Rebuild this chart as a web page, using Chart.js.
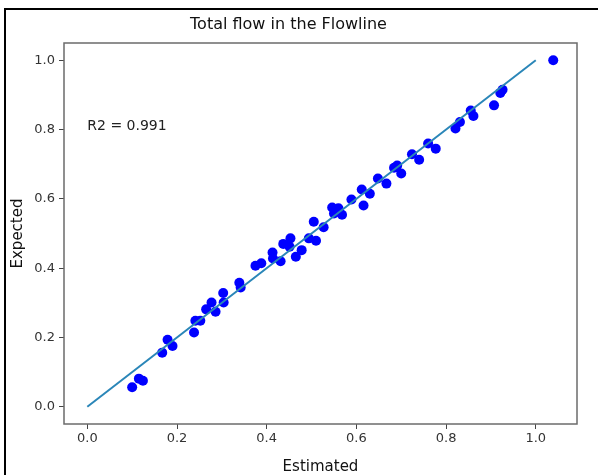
<!DOCTYPE html>
<html><head><meta charset="utf-8">
<script src="https://cdn.jsdelivr.net/npm/chart.js@4.4.1/dist/chart.umd.min.js"></script>
<style>
html,body{margin:0;padding:0;background:#fff;overflow:hidden}
#wrap{position:relative;width:598px;height:475px;overflow:hidden}
#frame{position:absolute;left:4px;top:8px;right:-10px;bottom:-10px;border-left:2px solid #000;border-top:2px solid #000;pointer-events:none}
canvas{display:block}
</style></head><body>
<div id="wrap"><canvas id="c" width="598" height="475"></canvas><div id="frame"></div></div>
<script>
// ---- data ----
const estimated = [0.100,0.115,0.124,0.167,0.179,0.190,0.238,0.241,0.252,0.265,0.277,0.286,0.303,0.304,0.339,0.342,0.375,0.388,0.413,0.414,0.431,0.437,0.453,0.451,0.465,0.478,0.494,0.510,0.505,0.527,0.546,0.560,0.550,0.568,0.589,0.612,0.616,0.630,0.648,0.667,0.684,0.691,0.700,0.724,0.740,0.760,0.777,0.821,0.831,0.855,0.861,0.907,0.921,0.926,1.039];
const expected  = [0.056,0.081,0.075,0.156,0.193,0.175,0.214,0.248,0.248,0.281,0.301,0.274,0.328,0.301,0.358,0.344,0.407,0.414,0.445,0.428,0.420,0.470,0.486,0.462,0.433,0.452,0.486,0.479,0.534,0.518,0.575,0.573,0.558,0.554,0.598,0.627,0.581,0.615,0.659,0.644,0.690,0.696,0.673,0.729,0.713,0.760,0.745,0.803,0.822,0.855,0.839,0.870,0.906,0.915,1.000];
const fitX = [0, 1];
const fitY = [0, 1];
const xTicks = [0.0, 0.2, 0.4, 0.6, 0.8, 1.0];
const yTicks = [0.0, 0.2, 0.4, 0.6, 0.8, 1.0];
const xRange = [-0.052, 1.092];
const yRange = [-0.05, 1.05];
const titleText = 'Total flow in the Flowline';
const xLabel = 'Estimated';
const yLabel = 'Expected';
const r2Label = 'R2 = 0.991';
const r2At = [0.0, 0.8];

const FONT = "'DejaVu Sans', sans-serif";

const annotate = {
  id: 'annotate',
  afterDatasetsDraw(chart) {
    const {ctx, scales:{x, y}} = chart;
    ctx.save();
    ctx.font = '14px ' + FONT;
    ctx.fillStyle = '#222';
    ctx.textAlign = 'left';
    ctx.textBaseline = 'alphabetic';
    ctx.fillText(r2Label, x.getPixelForValue(r2At[0]), y.getPixelForValue(r2At[1]));
    ctx.restore();
  },
  afterDraw(chart) {
    const {ctx, chartArea:a} = chart;
    ctx.save();
    ctx.strokeStyle = '#6b6b6b';
    ctx.lineWidth = 1.5;
    ctx.strokeRect(a.left, a.top, a.right - a.left, a.bottom - a.top);
    ctx.restore();
  }
};

new Chart(document.getElementById('c'), {
  data: {
    datasets: [
      {
        type: 'line',
        data: fitX.map((v, i) => ({x: v, y: fitY[i]})),
        borderColor: '#2a86b8',
        borderWidth: 2,
        pointRadius: 0,
        fill: false,
        tension: 0
      },
      {
        type: 'scatter',
        data: estimated.map((v, i) => ({x: v, y: expected[i]})),
        backgroundColor: '#0000ff',
        borderColor: '#0000ff',
        borderWidth: 0,
        pointRadius: 5
      }
    ]
  },
  options: {
    responsive: false,
    animation: false,
    devicePixelRatio: 1,
    layout: {padding: {left: 0, right: 21, top: 0, bottom: 0}},
    plugins: {
      legend: {display: false},
      tooltip: {enabled: false},
      title: {
        display: true,
        text: titleText,
        color: '#111',
        font: {family: FONT, size: 16, weight: 'normal', lineHeight: 1.2},
        padding: {top: 15, bottom: 8.8}
      }
    },
    scales: {
      x: {
        type: 'linear',
        min: xRange[0], max: xRange[1],
        afterBuildTicks: s => { s.ticks = xTicks.map(v => ({value: v})); },
        afterFit: s => { s.height = 51; },
        ticks: {
          color: '#333', font: {family: FONT, size: 13}, padding: 2,
          callback: v => Number(v).toFixed(1), maxRotation: 0
        },
        grid: {drawOnChartArea: false, drawTicks: true, tickLength: 5, color: '#444'},
        border: {display: false},
        title: {display: true, text: xLabel, color: '#111',
          font: {family: FONT, size: 15, lineHeight: 1}, padding: {top: 0, bottom: 0}}
      },
      y: {
        type: 'linear',
        min: yRange[0], max: yRange[1],
        afterBuildTicks: s => { s.ticks = yTicks.map(v => ({value: v})); },
        afterFit: s => { s.width = 64; },
        ticks: {
          color: '#333', font: {family: FONT, size: 13}, padding: 4,
          callback: v => Number(v).toFixed(1)
        },
        grid: {drawOnChartArea: false, drawTicks: true, tickLength: 5, color: '#444'},
        border: {display: false},
        title: {display: true, text: yLabel, color: '#111',
          font: {family: FONT, size: 15, lineHeight: 1.2}, padding: {top: 9, bottom: 0}}
      }
    }
  },
  plugins: [annotate]
});
</script>
</body></html>
